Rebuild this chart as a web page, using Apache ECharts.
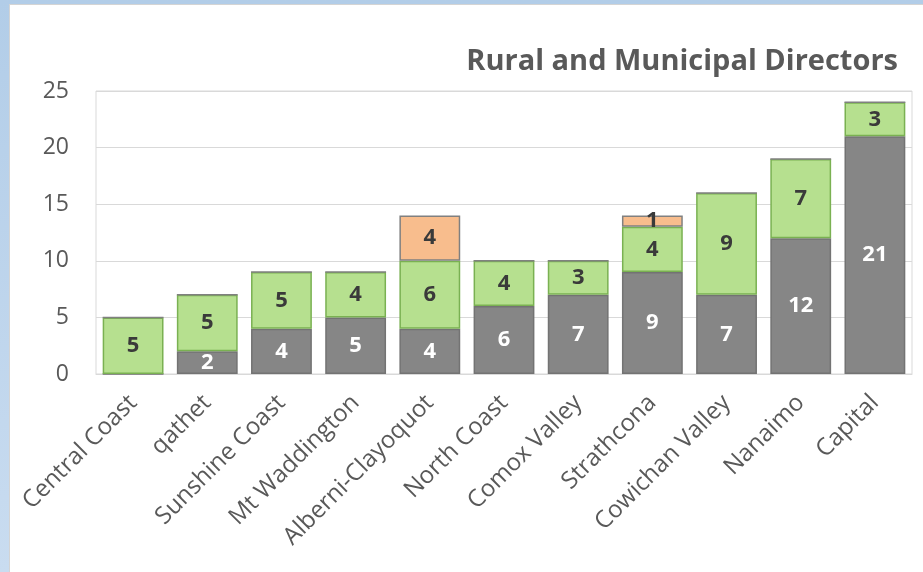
<!DOCTYPE html>
<html>
<head>
<meta charset="utf-8">
<script src="https://cdn.jsdelivr.net/npm/echarts@6/dist/echarts.min.js"></script>
<style>
  html, body { margin: 0; padding: 0; }
  body { width: 923px; height: 572px; background: linear-gradient(#b2cde8, #c9dcf0); overflow: hidden; position: relative; }
  #chart { position: absolute; left: 9px; top: 4px; width: 914px; height: 568px; background: #fff;
           border-left: 1px solid #d4d4d4; border-top: 1px solid #d4d4d4; box-sizing: border-box; }
</style>
</head>
<body>
<div id="chart"></div>
<script>
var regions = ['Central Coast', 'qathet', 'Sunshine Coast', 'Mt Waddington', 'Alberni-Clayoquot',
  'North Coast', 'Comox Valley', 'Strathcona', 'Cowichan Valley', 'Nanaimo', 'Capital'];
var municipal = [0, 2, 4, 5, 4, 6, 7, 9, 7, 12, 21];
var rural = [5, 5, 5, 4, 6, 4, 3, 4, 9, 7, 3];
var other = [0, 0, 0, 0, 4, 0, 0, 1, 0, 0, 0];
var yTicks = [0, 5, 10, 15, 20, 25];

var font = '"Open Sans", sans-serif';
function hideZero(p) { return p.value ? p.value : ''; }

var chart = echarts.init(document.getElementById('chart'));
chart.setOption({
  animation: false,
  title: {
    text: 'Rural and Municipal Directors',
    right: 20,
    top: 37,
    textStyle: { fontFamily: font, fontSize: 29, fontWeight: 'bold', color: '#595959' }
  },
  grid: {
    left: 86, right: 11, top: 86, bottom: 198,
    show: true, borderColor: '#d9d9d9', borderWidth: 1
  },
  xAxis: {
    type: 'category',
    data: regions,
    axisLine: { lineStyle: { color: '#d9d9d9' } },
    axisTick: { show: false },
    axisLabel: { rotate: 45, fontFamily: font, fontSize: 24, color: '#595959', margin: 25, interval: 0 }
  },
  yAxis: {
    type: 'value',
    min: yTicks[0], max: yTicks[yTicks.length - 1], interval: 5,
    axisLabel: { fontFamily: font, fontSize: 23, color: '#595959', margin: 27 },
    splitLine: { lineStyle: { color: '#d9d9d9' } }
  },
  series: [
    {
      name: 'Municipal', type: 'bar', stack: 'd', data: municipal, barCategoryGap: '18%',
      itemStyle: { color: '#868686', borderColor: '#737373', borderWidth: 1.5 },
      label: { show: true, position: 'inside', formatter: hideZero, fontFamily: font, fontSize: 22, fontWeight: 'bold', color: '#fff' }
    },
    {
      name: 'Rural', type: 'bar', stack: 'd', data: rural,
      itemStyle: { color: '#b6e08f', borderColor: '#7ab152', borderWidth: 1.5 },
      label: { show: true, position: 'inside', formatter: hideZero, fontFamily: font, fontSize: 22, fontWeight: 'bold', color: '#3a3a3a' }
    },
    {
      name: 'Other', type: 'bar', stack: 'd', data: other,
      itemStyle: { color: '#f8bd8d', borderColor: '#808080', borderWidth: 1.5 },
      label: { show: true, position: 'inside', formatter: hideZero, fontFamily: font, fontSize: 22, fontWeight: 'bold', color: '#3a3a3a' }
    }
  ]
});
</script>
</body>
</html>
